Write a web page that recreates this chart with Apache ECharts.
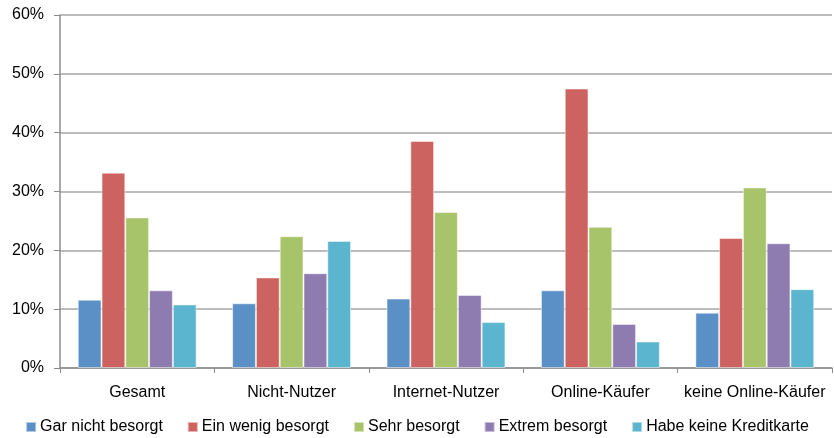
<!DOCTYPE html>
<html>
<head>
<meta charset="utf-8">
<script src="https://cdn.jsdelivr.net/npm/echarts@6/dist/echarts.min.js"></script>
<style>
    html, body { margin: 0; padding: 0; background: #fff; }
    #main { width: 834px; height: 438px; }
</style>
</head>
<body>
<div id="main"></div>
<script>
// Kategorien und Werte (in Prozent)
var categories = ['Gesamt', 'Nicht-Nutzer', 'Internet-Nutzer', 'Online-Käufer', 'keine Online-Käufer'];
var seriesNames = ['Gar nicht besorgt', 'Ein wenig besorgt', 'Sehr besorgt', 'Extrem besorgt', 'Habe keine Kreditkarte'];
var garNicht = [11.6, 11.0, 11.8, 13.2, 9.4];
var einWenig = [33.2, 15.4, 38.6, 47.5, 22.1];
var sehr = [25.6, 22.4, 26.5, 24.0, 30.7];
var extrem = [13.2, 16.1, 12.4, 7.5, 21.2];
var keineKarte = [10.8, 21.6, 7.8, 4.5, 13.4];
var yTicks = [0, 10, 20, 30, 40, 50, 60];

var colors = ['#5b90c6', '#cc6360', '#a8c46a', '#8e7bb0', '#5bb5cf'];
var values = [garNicht, einWenig, sehr, extrem, keineKarte];

var myChart = echarts.init(document.getElementById('main'));

var series = seriesNames.map(function (name, i) {
    return {
        name: name,
        type: 'bar',
        barGap: '0%',
        barCategoryGap: '23%',
        itemStyle: {
            color: colors[i],
            borderColor: 'rgba(255,255,255,0.5)',
            borderWidth: 1
        },
        data: values[i]
    };
});

var option = {
    animation: false,
    textStyle: { fontFamily: 'Liberation Sans', color: '#000' },
    grid: { left: 60, right: 2, top: 15, bottom: 70 },
    legend: {
        data: seriesNames,
        top: 414,
        left: 'center',
        itemWidth: 10,
        itemHeight: 10,
        itemGap: 24,
        icon: 'rect',
        textStyle: { fontSize: 16, color: '#000', fontFamily: 'Liberation Sans', padding: [0, 0, 0, -1] }
    },
    xAxis: {
        type: 'category',
        data: categories,
        axisLine: { lineStyle: { color: '#8c8c8c', width: 1.5 } },
        axisTick: { show: true, length: 5, lineStyle: { color: '#8c8c8c' } },
        axisLabel: { fontSize: 16, color: '#000', margin: 17, interval: 0 }
    },
    yAxis: {
        type: 'value',
        min: yTicks[0],
        max: yTicks[yTicks.length - 1],
        interval: 10,
        axisLine: { show: true, lineStyle: { color: '#8c8c8c', width: 1.5 } },
        axisTick: { show: true, length: 6, lineStyle: { color: '#8c8c8c' } },
        axisLabel: { fontSize: 16, color: '#000', margin: 16, formatter: '{value}%' },
        splitLine: { lineStyle: { color: '#a6a6a6', width: 1.5 } }
    },
    series: series
};

myChart.setOption(option);
</script>
</body>
</html>
